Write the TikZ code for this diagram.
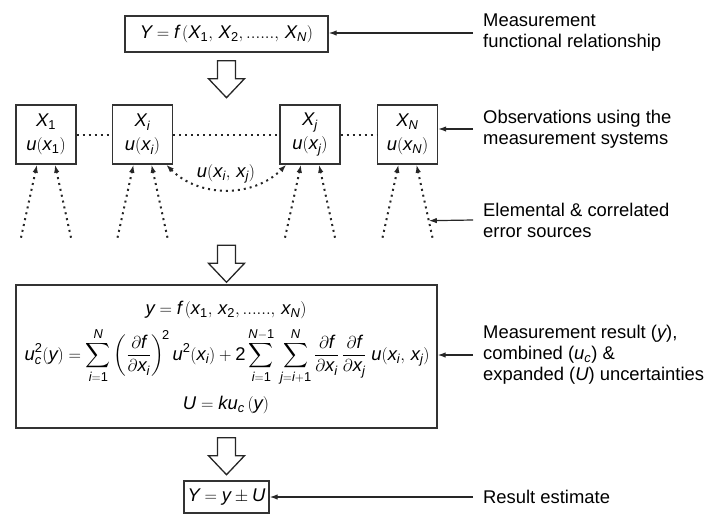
\documentclass[tikz,border=0pt]{standalone}
\usepackage{amsmath}
\usepackage{mathspec}
\setmainfont{Liberation Sans}
\setmathsfont(Digits,Latin){Liberation Sans}
\usetikzlibrary{arrows.meta,calc}

\tikzset{
	blk/.tip={Latex[length=8pt,width=5.5pt]},
	box/.style={draw=black!80, line width=1.4pt, inner sep=0pt},
	note/.style={anchor=west, align=left, inner xsep=10pt, inner ysep=0pt},
	arr/.style={-blk, line width=1.2pt, draw=black!85},
	dots/.style={line width=2pt, dash pattern=on 2pt off 4pt, draw=black!85},
	dotarr/.style={arr, line width=2pt, dash pattern=on 2pt off 4pt},
	hollow/.pic={
		\draw[line width=1.3pt, draw=black!85, fill=white]
			(-9,0) -- (9,0) -- (9,18) -- (18,18) -- (0,37) -- (-18,18) -- (-9,18) -- cycle;
	}
}

\begin{document}
\begin{tikzpicture}[x=1pt, y=-1pt, font=\fontsize{18.4}{21}\selectfont]
	\useasboundingbox (0,0) rectangle (719,525);
	% measurement model
	\node[box, minimum width=203pt, minimum height=36pt] (fbox) at (226.5,34)
		{$Y = f\,(X_1,\,X_2,......,\,X_N)$};
	\pic at ([yshift=-8pt]fbox.south) {hollow};
	% observations
	\node[box, minimum width=60pt, minimum height=59pt, align=center] (x1) at (46,134.5) {$X_1$\\[3pt]$u(x_1)$};
	\node[box, minimum width=60pt, minimum height=59pt, align=center] (xi) at (142.5,134.5) {$X_i$\\[3pt]$u(x_i)$};
	\node[box, minimum width=60pt, minimum height=59pt, align=center] (xj) at (310,134.5) {$X_j$\\[3pt]$u(x_j)$};
	\node[box, minimum width=60pt, minimum height=59pt, align=center] (xn) at (407.5,134.5) {$X_N$\\[3pt]$u(x_N)$};
	\draw[dots] (x1) -- (xi);
	\draw[dots] (xi) -- (xj);
	\draw[dots] (xj) -- (xn);
	% error sources
	\foreach \b in {x1,xi,xj,xn}{
		\coordinate (\b-lb) at ([xshift=-25pt,yshift=-73pt]\b.south);
		\coordinate (\b-rb) at ([xshift=25pt,yshift=-73pt]\b.south);
		\coordinate (\b-lt) at ([xshift=-9pt]\b.south);
		\coordinate (\b-rt) at ([xshift=9pt]\b.south);
		\draw[dotarr] (\b-lb) -- (\b-lt);
		\draw[dotarr] (\b-rb) -- (\b-rt);
	}
	\draw[dotarr, blk-blk] ([xshift=-7pt]xi.south east) to[bend right=45] ([xshift=7pt]xj.south west);
	\node (cov) at (226,174) {$u(x_i,\,x_j)$};
	% result
	\node[box, minimum width=421pt, minimum height=143pt] (big) at (226.5,356.5) {};
	\pic at ([yshift=39pt]big.north) {hollow};
	\node (eq1) at (226,310) {$y = f\,(x_1,\,x_2,......,\,x_N)$};
	\node (eq2) at (227,357) {$\displaystyle u_c^2(y) = \sum_{i=1}^{N}\left(\frac{\partial f}{\partial x_i}\right)^{\!2} u^2(x_i) + 2\sum_{i=1}^{N-1}\,\sum_{j=i+1}^{N}\frac{\partial f}{\partial x_i}\,\frac{\partial f}{\partial x_j}\;u(x_i,\,x_j)$};
	\node (eq3) at (226,405) {$U = ku_c\,(y)$};
	\pic at ([yshift=-9pt]big.south) {hollow};
	\node[box, minimum width=85pt, minimum height=32pt] (res) at (226.5,497) {$Y = y \pm U$};
	% notes on the right
	\node[note] (lbl1) at (473,33) {Measurement\\functional relationship};
	\draw[arr] (lbl1.west) -- (lbl1.west -| fbox.east);
	\node[note] (lbl2) at (473,129) {Observations using the\\measurement systems};
	\draw[arr] (lbl2.west) -- (lbl2.west -| xn.east);
	\node[note] (lbl3) at (473,220) {Elemental \& correlated\\error sources};
	\draw[arr] (lbl3.west) -- ($(xn-rb)!0.233!(xn-rt)$);
	\node[note] (lbl4) at (473,355) {Measurement result ($y$),\\combined ($u_c$) \&\\expanded ($U$) uncertainties};
	\draw[arr] (lbl4.west) -- (lbl4.west -| big.east);
	\node[note] (lbl5) at (473,497) {Result estimate};
	\draw[arr] (lbl5.west) -- (lbl5.west -| res.east);
\end{tikzpicture}
\end{document}
